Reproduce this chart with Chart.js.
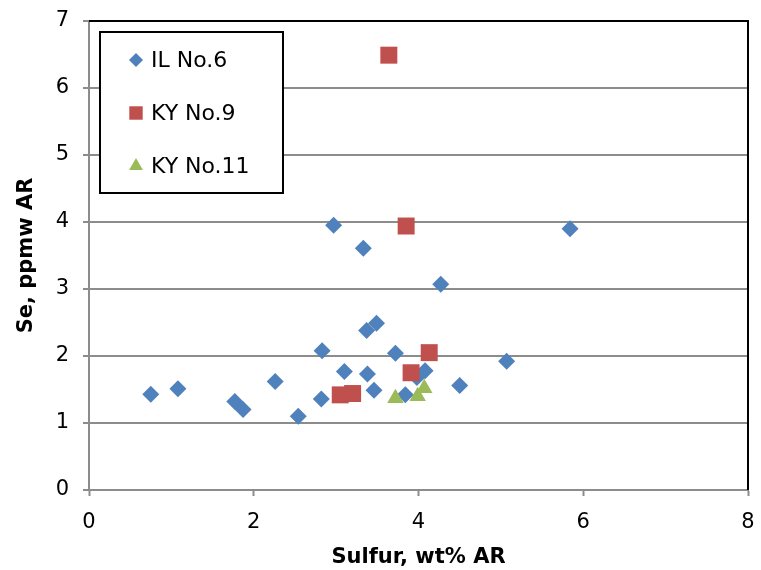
<!DOCTYPE html>
<html>
<head>
<meta charset="utf-8">
<script src="https://cdn.jsdelivr.net/npm/chart.js@4/dist/chart.umd.min.js"></script>
<style>
    html, body { margin: 0; padding: 0; background: #fff; }
    #wrap { width: 761px; height: 570px; }
</style>
</head>
<body>
<div id="wrap"><canvas id="chart" width="761" height="570"></canvas></div>
<script>
// values
const seriesNames = ['IL No.6', 'KY No.9', 'KY No.11'];

const ilSulfur = [0.75, 1.08, 1.77, 1.87, 2.26, 2.54, 2.82, 2.83, 2.97, 3.10, 3.33, 3.37, 3.38, 3.46, 3.49, 3.72, 3.84, 3.98, 4.08, 4.27, 4.50, 5.07, 5.84];
const ilSe = [1.43, 1.51, 1.32, 1.20, 1.62, 1.10, 1.36, 2.08, 3.95, 1.77, 3.61, 2.38, 1.73, 1.49, 2.49, 2.04, 1.42, 1.68, 1.78, 3.07, 1.56, 1.92, 3.90];

const ky9Sulfur = [3.05, 3.20, 3.64, 3.85, 3.91, 4.13];
const ky9Se = [1.42, 1.44, 6.49, 3.94, 1.75, 2.05];

const ky11Sulfur = [3.72, 3.99, 4.07];
const ky11Se = [1.37, 1.40, 1.52];

const xTicks = [0, 2, 4, 6, 8];
const yTicks = [0, 1, 2, 3, 4, 5, 6, 7];

const FONT = '"DejaVu Sans", sans-serif';
const GRID = '#8c8c8c';

const toPoints = (xs, ys) => xs.map((x, i) => ({ x, y: ys[i] }));

const styles = [
    { pointStyle: 'rectRot', radius: 8.5, legendRadius: 7, color: '#4F81BD' },
    { pointStyle: 'rect', radius: 12, legendRadius: 9.5, color: '#C0504D' },
    { pointStyle: 'triangle', radius: 9.5, legendRadius: 8, color: '#9BBB59' },
];

const datasets = [
    toPoints(ilSulfur, ilSe),
    toPoints(ky9Sulfur, ky9Se),
    toPoints(ky11Sulfur, ky11Se),
].map((data, i) => ({
    label: seriesNames[i],
    data,
    order: 3 - i,
    pointStyle: styles[i].pointStyle,
    pointRadius: styles[i].radius,
    pointHoverRadius: styles[i].radius,
    pointBackgroundColor: styles[i].color,
    pointBorderColor: styles[i].color,
    pointBorderWidth: 0,
    showLine: false,
}));

// legend box drawn inside the plot, like the spreadsheet original
const boxLegend = {
    id: 'boxLegend',
    afterDraw(chart) {
        const ctx = chart.ctx;
        ctx.save();
        ctx.fillStyle = '#fff';
        ctx.fillRect(100, 32, 183, 161);
        ctx.strokeStyle = '#000';
        ctx.lineWidth = 2;
        ctx.strokeRect(100, 32, 183, 161);
        const rows = [60, 113, 166];
        ctx.font = '22px ' + FONT;
        ctx.textBaseline = 'middle';
        ctx.textAlign = 'left';
        rows.forEach((y, i) => {
            const s = styles[i];
            ctx.fillStyle = s.color;
            ctx.strokeStyle = s.color;
            Chart.helpers.drawPoint(ctx, { pointStyle: s.pointStyle, radius: s.legendRadius, borderWidth: 0 }, 136, y);
            ctx.fillStyle = '#000';
            ctx.fillText(seriesNames[i], 151, y + 1);
        });
        ctx.restore();
    },
};

// black frame on top and right of the plot area
const plotFrame = {
    id: 'plotFrame',
    beforeDatasetsDraw(chart) {
        const { left, right, top, bottom } = chart.chartArea;
        const ctx = chart.ctx;
        ctx.save();
        ctx.strokeStyle = '#000';
        ctx.lineWidth = 2;
        ctx.beginPath();
        ctx.moveTo(left, top);
        ctx.lineTo(right, top);
        ctx.lineTo(right, bottom);
        ctx.stroke();
        ctx.restore();
    },
};

new Chart(document.getElementById('chart').getContext('2d'), {
    type: 'scatter',
    data: { datasets },
    plugins: [plotFrame, boxLegend],
    options: {
        responsive: false,
        animation: false,
        devicePixelRatio: 1,
        layout: { padding: { top: 21, right: 13, left: 0, bottom: 0 } },
        plugins: {
            legend: { display: false },
            tooltip: { enabled: false },
        },
        scales: {
            x: {
                type: 'linear',
                min: 0,
                max: 8,
                afterBuildTicks: (axis) => { axis.ticks = xTicks.map((v) => ({ value: v })); },
                afterFit: (axis) => {
                    axis.height = 80;
                    axis.paddingLeft = 0;
                    axis.paddingRight = 0;
                },
                ticks: {
                    color: '#000',
                    font: { family: FONT, size: 21 },
                    padding: 14,
                },
                grid: {
                    drawOnChartArea: false,
                    tickLength: 6,
                    tickWidth: 2,
                    tickColor: GRID,
                },
                border: { color: GRID, width: 2 },
                title: {
                    display: true,
                    text: 'Sulfur, wt% AR',
                    color: '#000',
                    font: { family: FONT, size: 21, weight: 'bold' },
                    padding: { top: 0, bottom: 0 },
                },
            },
            y: {
                type: 'linear',
                min: 0,
                max: 7,
                afterBuildTicks: (axis) => { axis.ticks = yTicks.map((v) => ({ value: v })); },
                afterFit: (axis) => {
                    axis.width = 89;
                    axis.paddingTop = 0;
                    axis.paddingBottom = 0;
                },
                ticks: {
                    color: '#000',
                    font: { family: FONT, size: 21 },
                    padding: 14,
                },
                grid: {
                    color: (c) => (c.tick && c.tick.value === 7 ? 'rgba(0,0,0,0)' : GRID),
                    lineWidth: 2,
                    tickLength: 6,
                    tickWidth: 2,
                    tickColor: GRID,
                },
                border: { color: GRID, width: 2 },
                title: {
                    display: true,
                    text: 'Se, ppmw AR',
                    color: '#000',
                    font: { family: FONT, size: 21, weight: 'bold' },
                    padding: { top: 14, bottom: 14 },
                },
            },
        },
    },
});
</script>
</body>
</html>
